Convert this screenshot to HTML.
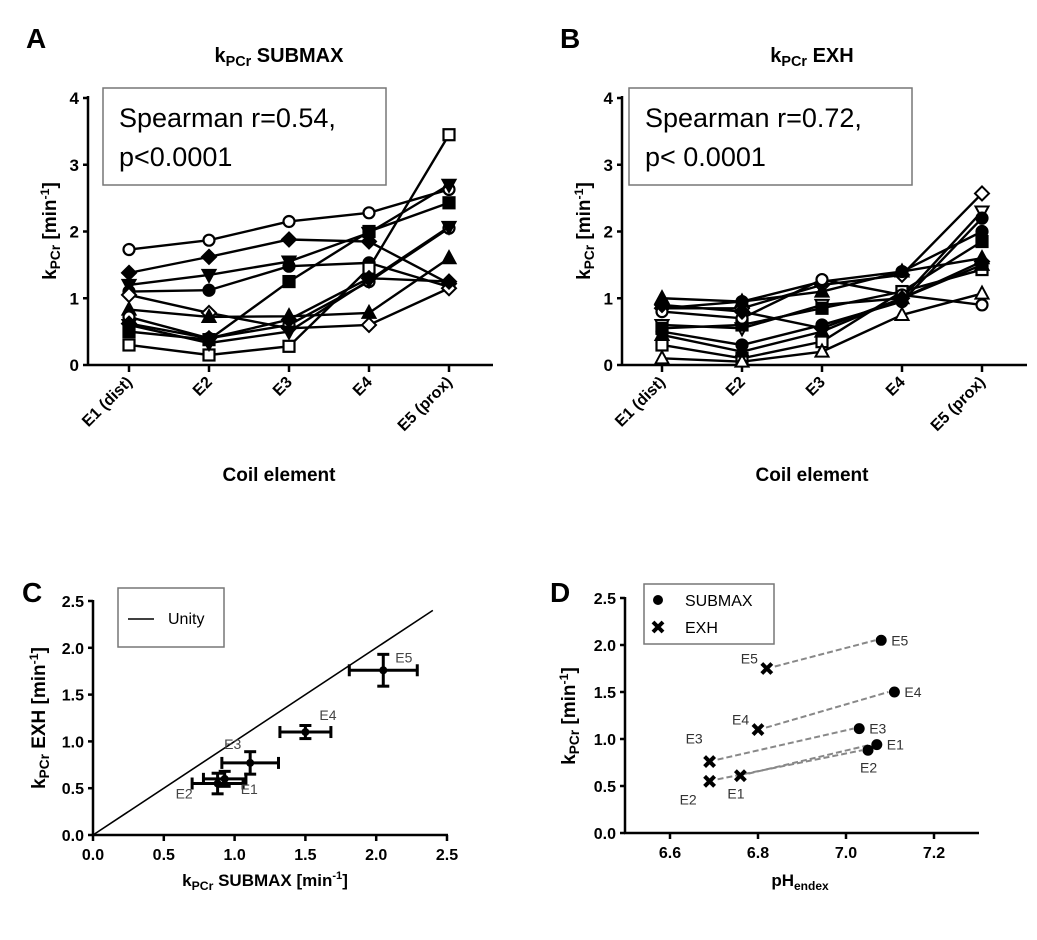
<!DOCTYPE html>
<html><head><meta charset="utf-8"><style>
body{margin:0;background:#fff}
svg{display:block;font-family:"Liberation Sans",Arial,sans-serif}
.b{font-weight:bold}
</style></head><body>
<svg id="fig" width="1037" height="940" viewBox="0 0 1037 940"></svg>
<script>
// ---- Data ----
const coilCats = ["E1 (dist)","E2","E3","E4","E5 (prox)"];
const yTicksAB = [0,1,2,3,4];
const submaxSeries = [
 [1.73,1.87,2.15,2.28,2.63],
 [1.38,1.62,1.88,1.85,1.22],
 [1.20,1.35,1.55,1.98,2.70],
 [1.10,1.12,1.48,1.53,1.17],
 [1.05,0.78,0.55,0.60,1.15],
 [0.83,0.72,0.73,0.78,1.60],
 [0.50,0.38,1.25,2.00,2.43],
 [0.30,0.15,0.28,1.45,3.45],
 [0.72,0.40,0.60,1.25,2.05],
 [0.62,0.40,0.68,1.30,1.25],
 [0.60,0.33,0.50,1.27,2.07]
];
const submaxMarkers = ["oc","fd","ft","fc","od","ftu","fs","os","oc","fd","ft"];
const exhSeries = [
 [0.85,0.85,1.20,1.35,2.57],
 [0.60,0.55,0.90,1.00,2.30],
 [0.85,0.95,1.25,1.40,2.00],
 [0.55,0.60,0.85,1.10,1.85],
 [1.00,0.95,1.10,1.40,1.60],
 [0.30,0.10,0.35,1.10,1.43],
 [0.10,0.05,0.20,0.75,1.07],
 [0.80,0.70,1.28,1.05,0.90],
 [0.90,0.80,0.55,1.00,1.55],
 [0.50,0.30,0.60,0.95,2.20],
 [0.45,0.20,0.50,1.00,1.50]
];
const exhMarkers = ["od","otd","fc","fs","ftu","os","otu","oc","fd","fc","ftu"];
const cLabels = ["E1","E2","E3","E4","E5"];
const cX = [0.93,0.88,1.11,1.50,2.05];
const cXerr = [0.15,0.18,0.20,0.18,0.24];
const cY = [0.60,0.55,0.77,1.10,1.76];
const cYerr = [0.08,0.11,0.12,0.07,0.17];
const cTicks = [0,0.5,1.0,1.5,2.0,2.5];
const dLabels = ["E1","E2","E3","E4","E5"];
const dSubPH = [7.07,7.05,7.03,7.11,7.08];
const dSubK = [0.94,0.88,1.11,1.50,2.05];
const dExhPH = [6.76,6.69,6.69,6.80,6.82];
const dExhK = [0.61,0.55,0.76,1.10,1.75];
const dXTicks = [6.6,6.8,7.0,7.2];
const dYTicks = [0,0.5,1.0,1.5,2.0,2.5];

const NS="http://www.w3.org/2000/svg";
const svg=document.getElementById('fig');
function mk(tag,attrs,parent,text){const e=document.createElementNS(NS,tag);for(const k in attrs)e.setAttribute(k,attrs[k]);if(text!==undefined)e.textContent=text;(parent||svg).appendChild(e);return e;}
function grp(name){const g=mk('g',{});return g;}

function marker(g,type,x,y){
 const fill=type[0]==='f'?'#000':'#fff';const t=type.slice(1);let e;
 if(t==='c') e=mk('circle',{cx:x,cy:y,r:5.5,fill:fill,stroke:'#000','stroke-width':2.2},g);
 else if(t==='s') e=mk('rect',{x:x-5.5,y:y-5.5,width:11,height:11,fill:fill,stroke:'#000','stroke-width':2.2},g);
 else if(t==='d') e=mk('polygon',{points:`${x},${y-7} ${x+7},${y} ${x},${y+7} ${x-7},${y}`,fill:fill,stroke:'#000','stroke-width':2},g);
 else if(t==='tu') e=mk('polygon',{points:`${x},${y-7} ${x+6.5},${y+5} ${x-6.5},${y+5}`,fill:fill,stroke:'#000','stroke-width':2},g);
 else if(t==='t'||t==='td') e=mk('polygon',{points:`${x},${y+7} ${x+6.5},${y-5} ${x-6.5},${y-5}`,fill:fill,stroke:'#000','stroke-width':2},g);
 
 
}

function panelLetter(t,x,y){const e=mk('text',{x:x,y:y,'font-size':28,'font-weight':'bold'},svg,t);}

function kLabel(parent,x,y,size,suffix,rot,name){
 const t=mk('text',{x:x,y:y,'font-size':size,'font-weight':'bold','text-anchor':'middle',transform:rot?`rotate(-90 ${x} ${y})`:''},parent);
 
 mk('tspan',{},t,'k');mk('tspan',{dy:4,'font-size':size*0.72},t,'PCr');
 mk('tspan',{dy:-4},t,suffix);
 return t;
}
function minLabel(parent,x,y,size,prefix,rot,name){
 const t=mk('text',{x:x,y:y,'font-size':size,'font-weight':'bold','text-anchor':'middle',transform:rot?`rotate(-90 ${x} ${y})`:''},parent);
 
 mk('tspan',{},t,'k');mk('tspan',{dy:4,'font-size':size*0.72},t,'PCr');
 mk('tspan',{dy:-4},t,prefix+' [min');mk('tspan',{dy:-7,'font-size':size*0.65},t,'-1');mk('tspan',{dy:7},t,']');
 return t;
}

// ---- Panels A & B ----
function coilPanel(id,ax,x0,title,series,markers,txt1,txt2,box){
 const g=grp('panel-'+id);
 const ys=v=>365-v*66.75; const xs=i=>x0+i*80;
 panelLetter(id.toUpperCase(),ax-62,48);
 kLabel(g,x0+150,62,20,' '+title,false,'panel-title');
 // axes
 const ya=mk('line',{x1:ax,y1:96,x2:ax,y2:366,stroke:'#000','stroke-width':2.5},g);
 const xa=mk('line',{x1:ax,y1:365,x2:ax+405,y2:365,stroke:'#000','stroke-width':2.5},g);
 yTicksAB.forEach(v=>{mk('line',{x1:ax-5,y1:ys(v),x2:ax,y2:ys(v),stroke:'#000','stroke-width':2.5},g);
  const t=mk('text',{x:ax-9,y:ys(v)+6,'font-size':17,'font-weight':'bold','text-anchor':'end'},g,String(v));});
 coilCats.forEach((c,i)=>{mk('line',{x1:xs(i),y1:365,x2:xs(i),y2:372,stroke:'#000','stroke-width':2.5},g);
  const t=mk('text',{x:xs(i)+4,y:383,'font-size':16,'font-weight':'bold','text-anchor':'end',transform:`rotate(-45 ${xs(i)+4} 383)`},g,c);});
 const xl=mk('text',{x:x0+150,y:481,'font-size':19,'font-weight':'bold','text-anchor':'middle'},g,'Coil element');
 minLabel(g,ax-32,231,19,'',true,'y-axis-title');
 // series
 series.forEach((s,k)=>{const sg=grp('series-'+(k+1));g.appendChild(sg);
  const p=mk('polyline',{points:s.map((v,i)=>xs(i)+','+ys(v)).join(' '),fill:'none',stroke:'#000','stroke-width':2.4},sg);
  
  s.forEach((v,i)=>marker(sg,markers[k],xs(i),ys(v)));});
 const b=mk('rect',{x:box,y:88,width:283,height:97,fill:'#fff',stroke:'#777','stroke-width':1.5},g);
 const t1=mk('text',{x:box+16,y:127,'font-size':27},g,txt1);
 const t2=mk('text',{x:box+16,y:166,'font-size':27},g,txt2);
}
coilPanel('a',88,129,'SUBMAX',submaxSeries,submaxMarkers,'Spearman r=0.54,','p<0.0001',103);
coilPanel('b',622,662,'EXH',exhSeries,exhMarkers,'Spearman r=0.72,','p< 0.0001',629);

// ---- Panel C ----
(function(){
 const g=grp('panel-c');
 const xs=v=>93+v*141.6, ys=v=>835-v*93.6;
 panelLetter('C',22,602);
 const ya=mk('line',{x1:93,y1:600,x2:93,y2:836,stroke:'#000','stroke-width':2.5},g);
 const xa=mk('line',{x1:92,y1:835,x2:448,y2:835,stroke:'#000','stroke-width':2.5},g);
 cTicks.forEach(v=>{mk('line',{x1:88,y1:ys(v),x2:93,y2:ys(v),stroke:'#000','stroke-width':2.5},g);
  const t=mk('text',{x:84,y:ys(v)+6,'font-size':16,'font-weight':'bold','text-anchor':'end'},g,v.toFixed(1));
  mk('line',{x1:xs(v),y1:835,x2:xs(v),y2:841,stroke:'#000','stroke-width':2.5},g);
  const u=mk('text',{x:xs(v),y:860,'font-size':16,'font-weight':'bold','text-anchor':'middle'},g,v.toFixed(1));});
 minLabel(g,265,886,17,' SUBMAX',false,'x-axis-title');
 minLabel(g,45,718,19,' EXH',true,'y-axis-title');
 const un=mk('line',{x1:xs(0),y1:ys(0),x2:xs(2.4),y2:ys(2.4),stroke:'#000','stroke-width':1.6},g);
 cX.forEach((x,i)=>{const pg=grp('point-'+cLabels[i].toLowerCase());g.appendChild(pg);
  const X=xs(x),Y=ys(cY[i]),x1=xs(x-cXerr[i]),x2=xs(x+cXerr[i]),y1=ys(cY[i]-cYerr[i]),y2=ys(cY[i]+cYerr[i]);
  mk('line',{x1:x1,y1:Y,x2:x2,y2:Y,stroke:'#000','stroke-width':3},pg);
  mk('line',{x1:x1,y1:Y-6,x2:x1,y2:Y+6,stroke:'#000','stroke-width':3},pg);
  mk('line',{x1:x2,y1:Y-6,x2:x2,y2:Y+6,stroke:'#000','stroke-width':3},pg);
  mk('line',{x1:X,y1:y1,x2:X,y2:y2,stroke:'#000','stroke-width':3},pg);
  mk('line',{x1:X-6,y1:y1,x2:X+6,y2:y1,stroke:'#000','stroke-width':3},pg);
  mk('line',{x1:X-6,y1:y2,x2:X+6,y2:y2,stroke:'#000','stroke-width':3},pg);
  mk('circle',{cx:X,cy:Y,r:4,fill:'#000'},pg);});
 const lo={E1:[16,15],E2:[-42,15],E3:[-26,-14],E4:[14,-12],E5:[12,-8]};
 cLabels.forEach((l,i)=>{const t=mk('text',{x:xs(cX[i])+lo[l][0],y:ys(cY[i])+lo[l][1],'font-size':14,fill:'#444'},g,l);});
 const lb=mk('rect',{x:118,y:588,width:106,height:59,fill:'#fff',stroke:'#777','stroke-width':1.5},g);
 mk('line',{x1:128,y1:619,x2:154,y2:619,stroke:'#000','stroke-width':1.6},g);
 const lt=mk('text',{x:168,y:624,'font-size':16},g,'Unity');
})();

// ---- Panel D ----
(function(){
 const g=grp('panel-d');
 const xs=v=>670+(v-6.6)*440, ys=v=>833-v*94;
 panelLetter('D',550,602);
 const ya=mk('line',{x1:625,y1:597,x2:625,y2:834,stroke:'#000','stroke-width':2.5},g);
 const xa=mk('line',{x1:624,y1:833,x2:979,y2:833,stroke:'#000','stroke-width':2.5},g);
 dYTicks.forEach(v=>{mk('line',{x1:620,y1:ys(v),x2:625,y2:ys(v),stroke:'#000','stroke-width':2.5},g);
  const t=mk('text',{x:616,y:ys(v)+6,'font-size':16,'font-weight':'bold','text-anchor':'end'},g,v.toFixed(1));});
 dXTicks.forEach(v=>{mk('line',{x1:xs(v),y1:833,x2:xs(v),y2:839,stroke:'#000','stroke-width':2.5},g);
  const t=mk('text',{x:xs(v),y:858,'font-size':16,'font-weight':'bold','text-anchor':'middle'},g,v.toFixed(1));});
 const xl=mk('text',{x:800,y:886,'font-size':17,'font-weight':'bold','text-anchor':'middle'},g);
 mk('tspan',{},xl,'pH');mk('tspan',{dy:4,'font-size':12},xl,'endex');
 minLabel(g,575,716,19,'',true,'y-axis-title');
 dSubPH.forEach((p,i)=>{const l=mk('line',{x1:xs(dExhPH[i])+8,y1:ys(dExhK[i])-2,x2:xs(p)-6,y2:ys(dSubK[i]),stroke:'#888','stroke-width':2,'stroke-dasharray':'6,3'},g);});
 dSubPH.forEach((p,i)=>{const c=mk('circle',{cx:xs(p),cy:ys(dSubK[i]),r:5.5,fill:'#000'},g);});
 function cross(x,y,name){const e=mk('path',{d:`M${x-5},${y-5}L${x+5},${y+5}M${x+5},${y-5}L${x-5},${y+5}`,stroke:'#000','stroke-width':4},g);}
 dExhPH.forEach((p,i)=>cross(xs(p),ys(dExhK[i]),'exh-point'));
 const so={E1:[10,5],E2:[-8,22],E3:[10,5],E4:[10,5],E5:[10,5]};
 const eo={E1:[-13,23],E2:[-30,23],E3:[-24,-18],E4:[-26,-5],E5:[-26,-5]};
 dLabels.forEach((l,i)=>{const a=mk('text',{x:xs(dSubPH[i])+so[l][0],y:ys(dSubK[i])+so[l][1],'font-size':14,fill:'#333'},g,l);
  const b=mk('text',{x:xs(dExhPH[i])+eo[l][0],y:ys(dExhK[i])+eo[l][1],'font-size':14,fill:'#333'},g,l);});
 const lb=mk('rect',{x:644,y:584,width:130,height:60,fill:'#fff',stroke:'#777','stroke-width':1.5},g);
 mk('circle',{cx:658,cy:600,r:5,fill:'#000'},g);
 const t1=mk('text',{x:685,y:606,'font-size':16},g,'SUBMAX');
 cross(658,627,'legend-marker-exh');
 const t2=mk('text',{x:685,y:633,'font-size':16},g,'EXH');
})();
</script>
</body></html>
